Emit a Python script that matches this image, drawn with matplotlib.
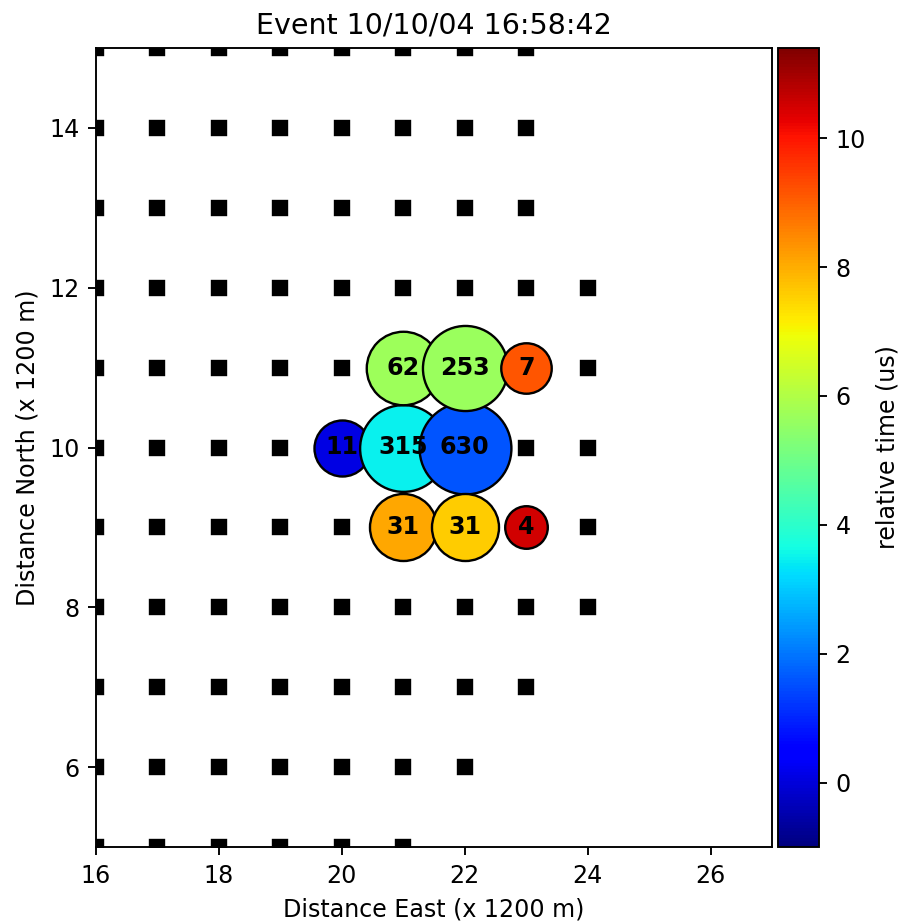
import matplotlib
matplotlib.use("Agg")
import matplotlib.pyplot as plt
import numpy as np

# station grid: for each row (north), the east positions that have a detector
station_rows = {
    15: [16, 17, 18, 19, 20, 21, 22, 23],
    14: [16, 17, 18, 19, 20, 21, 22, 23],
    13: [16, 17, 18, 19, 20, 21, 22, 23],
    12: [16, 17, 18, 19, 20, 21, 22, 23, 24],
    11: [16, 17, 18, 19, 20, 21, 22, 23, 24],
    10: [16, 17, 18, 19, 20, 21, 22, 23, 24],
    9: [16, 17, 18, 19, 20, 21, 22, 23, 24],
    8: [16, 17, 18, 19, 20, 21, 22, 23, 24],
    7: [16, 17, 18, 19, 20, 21, 22, 23],
    6: [16, 17, 18, 19, 20, 21, 22],
    5: [16, 17, 18, 19, 20, 21],
}

# triggered stations
hit_east = [20, 21, 22, 21, 22, 23, 21, 22, 23]
hit_north = [10, 10, 10, 11, 11, 11, 9, 9, 9]
hit_counts = [11, 315, 630, 62, 253, 7, 31, 31, 4]
hit_times = [0.1, 3.5, 1.6, 5.7, 5.65, 9.15, 8.1, 7.6, 10.5]

t_min, t_max = -1.0, 11.4

DPI = 171
fig = plt.figure(figsize=(901 / DPI, 924 / DPI), dpi=DPI)
ax = fig.add_axes([96 / 901, 77 / 924, 676 / 901, 799 / 924])
cax = fig.add_axes([778 / 901, 77 / 924, 41 / 901, 799 / 924])

sx = [x for y, xs in station_rows.items() for x in xs]
sy = [y for y, xs in station_rows.items() for x in xs]
ax.plot(sx, sy, 's', color='black', markersize=6.2, linestyle='none', zorder=1)

order = np.argsort(hit_east, kind='stable')
ex = np.array(hit_east)[order]
ny = np.array(hit_north)[order]
cnt = np.array(hit_counts)[order]
tt = np.array(hit_times)[order]

sc = None
for i in range(len(ex)):
    sc = ax.scatter(ex[i], ny[i], s=232 * np.log(cnt[i]), c=[tt[i]], cmap='jet',
                    vmin=t_min, vmax=t_max, edgecolors='black', linewidths=1.0,
                    zorder=2 + i)
for x, y, n in zip(hit_east, hit_north, hit_counts):
    ax.text(x, y, str(n), ha='center', va='center', fontweight='bold',
            fontsize=10, zorder=20)

ax.set_xlim(16, 27)
ax.set_ylim(5, 15)
ax.set_xticks([16, 18, 20, 22, 24, 26])
ax.set_yticks([6, 8, 10, 12, 14])
ax.set_xlabel('Distance East (x 1200 m)')
ax.set_ylabel('Distance North (x 1200 m)')
ax.set_title('Event 10/10/04 16:58:42')

cb = fig.colorbar(sc, cax=cax)
cb.set_label('relative time (us)')
cb.set_ticks([0, 2, 4, 6, 8, 10])

fig.savefig('out.png', dpi=DPI)
